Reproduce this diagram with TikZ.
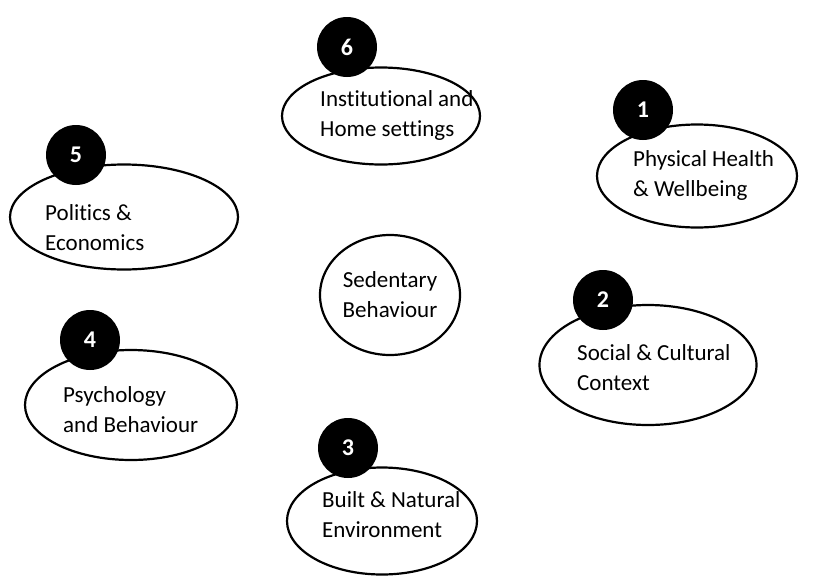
\documentclass[tikz,border=0pt]{standalone}
\usepackage{fontspec}
\setmainfont{Carlito}[Ligatures=NoCommon]
\usetikzlibrary{shapes,positioning}
\tikzset{x=1pt, y=-1pt, % one unit is one pixel of the layout, y runs downwards
every node/.style={font=\fontsize{23}{30}\selectfont}, % text size of the labels
}

\begin{document}
\begin{tikzpicture}[
	RING/.style args = {#1/#2}{ellipse, draw=black, line width=2.2pt, fill=white, minimum width=#1, minimum height=#2, inner sep=0pt},
	TXT/.style={anchor=west, align=left, inner sep=0pt},
	BADGE/.style={circle, fill=black, minimum size=60pt, inner sep=0pt, text=white, font=\fontsize{24}{26}\selectfont\bfseries}]
\useasboundingbox (0,0) rectangle (813,579);
\node[RING=140pt/120pt, align=center] (sb) at (390,295) {Sedentary\\Behaviour};
\node[RING=200pt/103pt] (e1) at (697,176) {};
\node[RING=217pt/120pt] (e2) at (648,365) {};
\node[RING=190pt/107pt] (e3) at (382,521) {};
\node[RING=212pt/110pt] (e4) at (131,405) {};
\node[RING=228pt/105pt] (e5) at (124,217) {};
\node[RING=198pt/97pt] (e6) at (381,116) {};
% texts of the rings
\node[TXT] (t1) at (633,175) {Physical Health\\\& Wellbeing};
\node[TXT] (t2) at (577,368) {Social \& Cultural\\Context};
\node[TXT] (t3) at (322,515) {Built \& Natural\\Environment};
\node[TXT] (t4) at (63,410) {Psychology\\and Behaviour};
\node[TXT] (t5) at (45,228) {Politics \&\\Economics};
\node[TXT] (t6) at (320,115) {Institutional and\\Home settings};
% numbered badges on top of the rings
\node[BADGE] (n1) at (643,110) {1};
\node[BADGE] (n2) at (603,300) {2};
\node[BADGE] (n3) at (348,448) {3};
\node[BADGE] (n4) at (90,340) {4};
\node[BADGE] (n5) at (76,155) {5};
\node[BADGE] (n6) at (347,47) {6};
\end{tikzpicture}
\end{document}
